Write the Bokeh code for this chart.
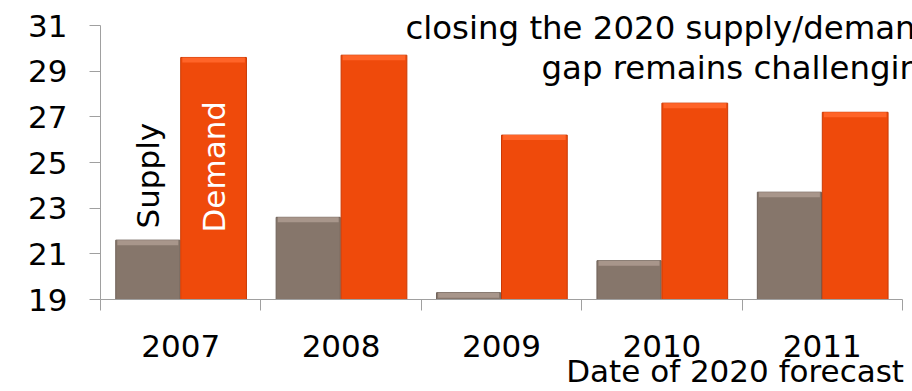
import math
from bokeh.plotting import figure
from bokeh.models import ColumnDataSource, FixedTicker, Label, Range1d
from bokeh.embed import file_html
from bokeh.resources import INLINE

years = ["2007", "2008", "2009", "2010", "2011"]
supply = [21.6, 22.6, 19.3, 20.7, 23.7]
demand = [29.6, 29.7, 26.2, 27.6, 27.2]
y_ticks = [19, 21, 23, 25, 27, 29, 31]
x_title = "Date of 2020 forecast"

FONT = "DejaVu Sans"
GRAY = "#a0a0a0"

# bars area: y=19 at px 299, y=31 at px 25; x categories from px 100 to px 902.
# The frame is extended to the top and right edges of the canvas so texts can sit there.
PX_PER_UNIT = 274 / (y_ticks[-1] - y_ticks[0])
y_top = y_ticks[-1] + 25 / PX_PER_UNIT
PX_PER_CAT = 802 / len(years)
x_right = len(years) + 10 / PX_PER_CAT

idx = list(range(len(years)))
src = ColumnDataSource(dict(
    xs=[i + 0.5 - 0.205 for i in idx],
    xd=[i + 0.5 + 0.205 for i in idx],
    supply=supply,
    demand=demand,
    supply_hl=[v - 0.22 for v in supply],
    demand_hl=[v - 0.22 for v in demand],
))

p = figure(width=912, height=391, output_backend="svg", toolbar_location=None,
           x_range=Range1d(0, x_right), y_range=Range1d(y_ticks[0], y_top),
           min_border_left=100, min_border_right=0, min_border_top=0, min_border_bottom=92)
p.outline_line_color = None
p.grid.grid_line_color = None
p.background_fill_color = "white"

# bars
p.vbar(x="xs", top="supply", bottom=y_ticks[0], width=0.40, source=src,
       fill_color="#86766b", line_color="#6f6158", line_width=1)
p.vbar(x="xd", top="demand", bottom=y_ticks[0], width=0.41, source=src,
       fill_color="#ef4a0b", line_color="#c93a05", line_width=1)
# bevel highlights at bar tops
p.vbar(x="xs", top="supply", bottom="supply_hl", width=0.38, source=src,
       fill_color="#a8968b", line_color=None)
p.vbar(x="xd", top="demand", bottom="demand_hl", width=0.39, source=src,
       fill_color="#ff6428", line_color=None)

# x axis
xa = p.xaxis[0]
xa.ticker = FixedTicker(ticks=[i + 0.5 for i in idx], minor_ticks=list(range(len(years) + 1)))
xa.bounds = (0, len(years))
xa.major_label_overrides = {i + 0.5: y for i, y in zip(idx, years)}
xa.major_tick_out = 0
xa.major_tick_in = 0
xa.minor_tick_out = 11
xa.minor_tick_in = 0
xa.minor_tick_line_color = GRAY
xa.axis_line_color = GRAY
xa.major_label_standoff = 24
xa.major_label_text_font = FONT
xa.major_label_text_font_size = "31px"
xa.major_label_text_color = "black"
# label is centred on the frame's right end; trailing no-break spaces push it left
xa.axis_label = x_title + "\u00a0" * 36
xa.axis_label_align = "end"
xa.axis_label_standoff = -7
xa.axis_label_text_font = FONT
xa.axis_label_text_font_size = "31px"
xa.axis_label_text_font_style = "normal"
xa.axis_label_text_color = "black"

# y axis
ya = p.yaxis[0]
ya.ticker = FixedTicker(ticks=y_ticks, minor_ticks=[])
ya.bounds = (y_ticks[0], y_ticks[-1])
ya.major_tick_out = 11
ya.major_tick_in = 0
ya.major_tick_line_color = GRAY
ya.axis_line_color = GRAY
ya.major_label_standoff = 22
ya.major_label_text_font = FONT
ya.major_label_text_font_size = "31px"
ya.major_label_text_color = "black"

# texts (screen units relative to the frame's bottom-left corner)
def lab(text, x, y, **kw):
    opts = dict(x_units="screen", y_units="screen", text_font=FONT,
                text_font_size="31px", text_color="black", text_baseline="alphabetic")
    opts.update(kw)
    p.add_layout(Label(x=x, y=y, text=text, **opts))

lab("closing the 2020 supply/demand", 305, 272, text_font_size="32.4px")
lab("gap remains challenging", 441, 232, text_font_size="32.4px")
lab("Supply", 47, 71, angle=math.pi / 2, text_baseline="middle", text_align="left")
lab("Demand", 113, 67, angle=math.pi / 2, text_baseline="middle", text_align="left",
    text_color="white")

open("out.html", "w").write(file_html(p, INLINE))
